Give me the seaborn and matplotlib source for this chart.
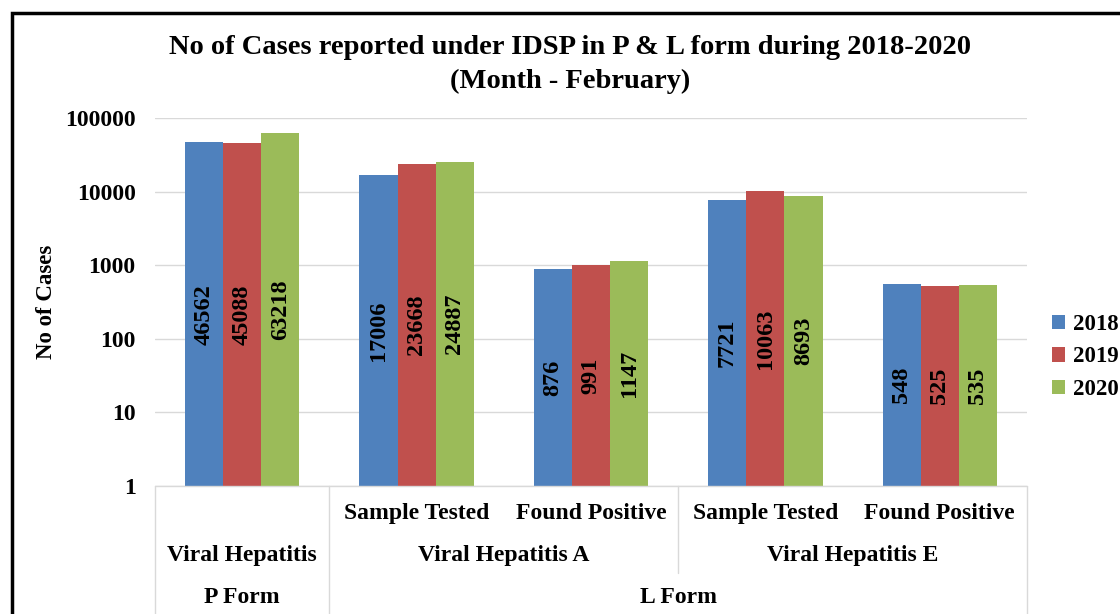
import numpy as np
import pandas as pd
import seaborn as sns
import matplotlib.pyplot as plt
from matplotlib.patches import Rectangle, Patch
from matplotlib.lines import Line2D

# Data
categories = ['P_VH', 'A_ST', 'A_FP', 'E_ST', 'E_FP']
sub_labels = ['', 'Sample Tested', 'Found Positive', 'Sample Tested', 'Found Positive']
years = ['2018', '2019', '2020']
cases_2018 = [46562, 17006, 876, 7721, 548]
cases_2019 = [45088, 23668, 991, 10063, 525]
cases_2020 = [63218, 24887, 1147, 8693, 535]
disease_labels = ['Viral Hepatitis', 'Viral Hepatitis A', 'Viral Hepatitis E']
form_labels = ['P Form', 'L Form']

colors = ['#4F81BD', '#C0504D', '#9BBB59']

df = pd.DataFrame({
    'category': categories * 3,
    'year': np.repeat(years, len(categories)),
    'cases': cases_2018 + cases_2019 + cases_2020,
})

sns.set_style('white')
plt.rcParams['font.family'] = ['Liberation Serif', 'DejaVu Serif']
plt.rcParams['font.weight'] = 'bold'
plt.rcParams['text.color'] = 'black'
plt.rcParams['axes.labelcolor'] = 'black'
plt.rcParams['ytick.color'] = 'black'

fig = plt.figure(figsize=(11.2, 6.14), dpi=100)
ax = fig.add_axes([155 / 1120, 1 - 486 / 614, 872 / 1120, 368 / 614])

sns.barplot(data=df, x='category', y='cases', hue='year', palette=colors,
            width=0.655, gap=0, saturation=1, linewidth=0, ax=ax, legend=False)
ax.set_yscale('log')
ax.set_ylim(1, 100000)
ax.set_xlim(-0.5, len(categories) - 0.5)
ax.set_yticks([1, 10, 100, 1000, 10000, 100000])
ax.set_yticklabels(['1', '10', '100', '1000', '10000', '100000'], fontsize=17, fontweight='bold')
ax.minorticks_off()
ax.tick_params(axis='y', length=0, pad=14)
ax.set_xticks([])
ax.set_xlabel('')
ax.set_ylabel('No of Cases', fontsize=16.5, fontweight='bold', labelpad=6)
ax.yaxis.grid(True, color='#D9D9D9', linewidth=1)
ax.set_axisbelow(True)
for s in ax.spines.values():
    s.set_visible(False)

# value labels, centred in log space within each bar
for cont in ax.containers:
    for p in cont:
        h = p.get_height()
        ax.text(p.get_x() + p.get_width() / 2, np.sqrt(h), f'{int(h)}',
                rotation=90, ha='center', va='center', fontsize=17.5, fontweight='bold')

# category table below the axis
line_kw = dict(color='#D9D9D9', linewidth=1, transform=ax.transAxes, clip_on=False)
n = len(categories)
for xf, yb in [(0, -0.348), (1 / n, -0.348), (3 / n, -0.236), (1.0, -0.348)]:
    ax.add_line(Line2D([xf, xf], [0, yb], **line_kw))
ax.add_line(Line2D([0, 1], [0, 0], **line_kw))

for i, lab in enumerate(sub_labels):
    if lab:
        ax.text((i + 0.5) / n, -0.076, lab, transform=ax.transAxes,
                ha='center', va='center', fontsize=17, fontweight='bold')
for xc, lab in zip([0.5 / n, 2 / n, 4 / n], disease_labels):
    ax.text(xc, -0.19, lab, transform=ax.transAxes,
            ha='center', va='center', fontsize=17, fontweight='bold')
for xc, lab in zip([0.5 / n, 3 / n], form_labels):
    ax.text(xc, -0.304, lab, transform=ax.transAxes,
            ha='center', va='center', fontsize=17, fontweight='bold')

# legend
handles = [Patch(facecolor=c, edgecolor='none') for c in colors]
fig.legend(handles, years, loc='center left', bbox_to_anchor=(1031 / 1120, 1 - 357 / 614),
           frameon=False, handlelength=0.6, handleheight=0.6,
           handletextpad=0.35, labelspacing=0.5, prop={'weight': 'bold', 'size': 16.5})

# title
fig.text(570 / 1120, 1 - 48 / 614, 'No of Cases reported under IDSP in P & L form during 2018-2020',
         ha='center', va='center', fontsize=20.5, fontweight='bold')
fig.text(570 / 1120, 1 - 81 / 614, '(Month - February)',
         ha='center', va='center', fontsize=20.5, fontweight='bold')

# outer frame
fig.patches.append(Rectangle((12 / 1120, -0.1), 1.2, 1 - 13 / 614 + 0.1, transform=fig.transFigure,
                             fill=False, edgecolor='black', linewidth=2.5, clip_on=False))

fig.savefig('out.png', dpi=100)
